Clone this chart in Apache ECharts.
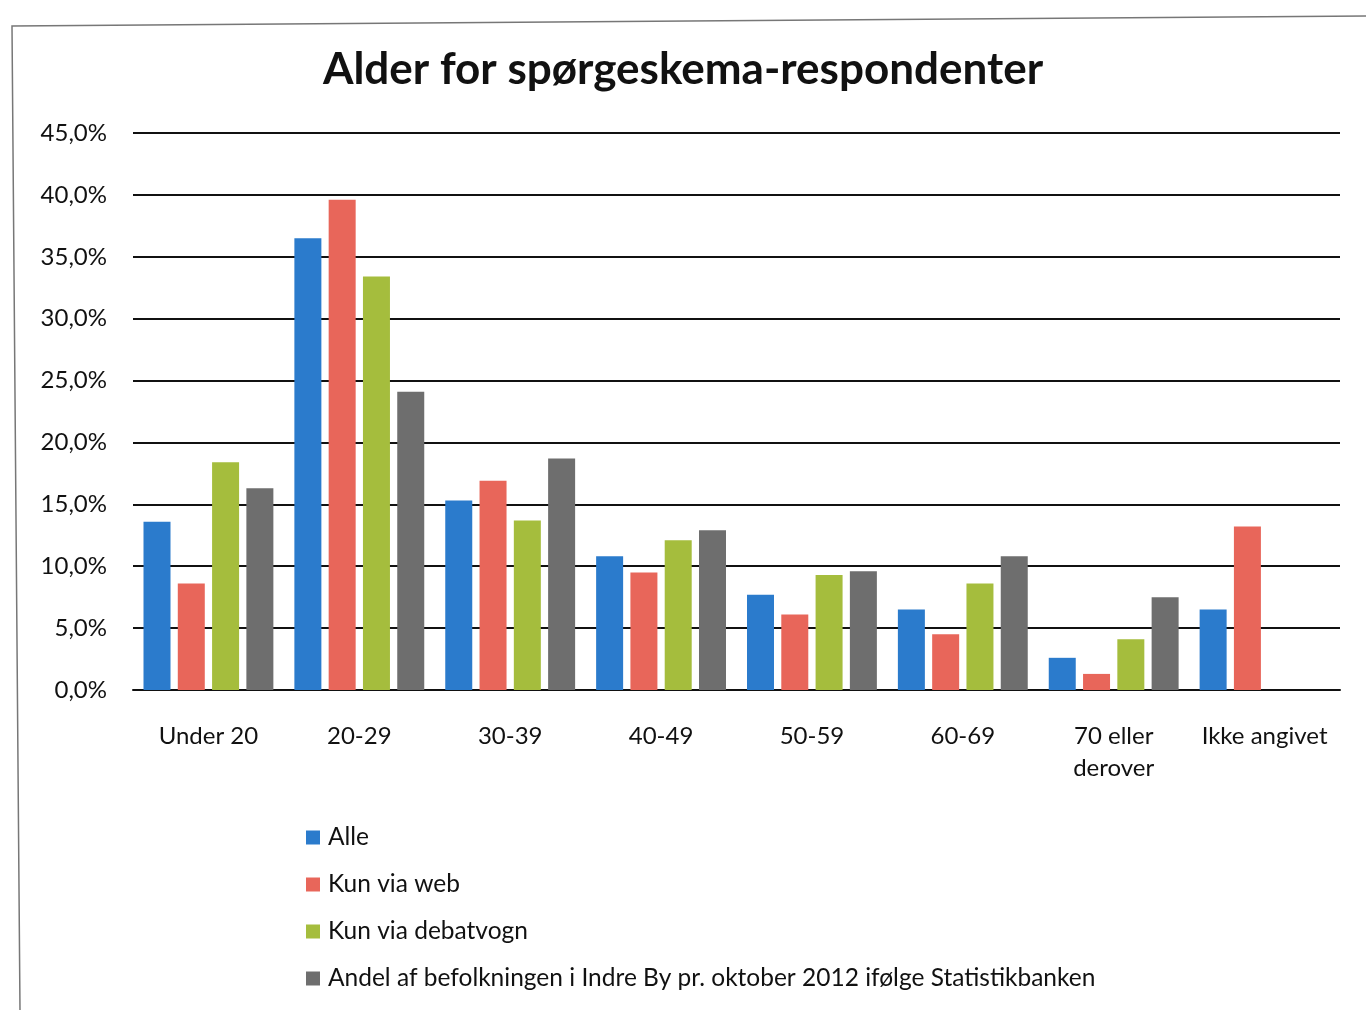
<!DOCTYPE html>
<html><head><meta charset="utf-8">
<script src="https://cdn.jsdelivr.net/npm/echarts@6/dist/echarts.min.js"></script>
<style>html,body{margin:0;padding:0;background:#fff}#c{width:1366px;height:1010px}</style>
</head><body><div id="c"></div>
<script>
const categories = ['Under 20','20-29','30-39','40-49','50-59','60-69','70 eller\nderover','Ikke angivet'];
const alle = [13.6, 36.5, 15.3, 10.8, 7.7, 6.5, 2.6, 6.5];
const kunWeb = [8.6, 39.6, 16.9, 9.5, 6.1, 4.5, 1.3, 13.2];
const kunDebatvogn = [18.4, 33.4, 13.7, 12.1, 9.3, 8.6, 4.1, null];
const andelBefolkning = [16.3, 24.1, 18.7, 12.9, 9.6, 10.8, 7.5, null];
const seriesNames = ['Alle','Kun via web','Kun via debatvogn','Andel af befolkningen i Indre By pr. oktober 2012 ifølge Statistikbanken'];
const colors = ['#2b7bcc','#e8665a','#a5bd3d','#6e6e6e'];
const FONT = 'Lato';

const chart = echarts.init(document.getElementById('c'));
const mk = (name, data, i) => ({
  name, type:'bar', data, barWidth:27, barGap:'27%',
  itemStyle:{color:colors[i]}
});
chart.setOption({
  animation:false,
  textStyle:{fontFamily:FONT},
  title:{text:'Alder for spørgeskema-respondenter', left:'center', top:43,
    textStyle:{fontFamily:FONT, fontSize:44, fontWeight:'bold', color:'#111'}},
  grid:{left:133, right:26, top:133, bottom:320},
  legend:{orient:'vertical', left:301, top:820, itemGap:22, itemWidth:14, itemHeight:14,
    icon:'rect', textStyle:{fontFamily:FONT, fontSize:24.5, color:'#111', padding:[0,0,0,3]}},
  xAxis:{type:'category', data:categories,
    axisLine:{lineStyle:{color:'#111', width:2}}, axisTick:{show:false},
    axisLabel:{fontFamily:FONT, fontSize:24, color:'#111', margin:30, lineHeight:32, interval:0}},
  yAxis:{type:'value', min:0, max:45, interval:5,
    axisLine:{show:false}, axisTick:{show:false},
    splitLine:{lineStyle:{color:'#111', width:2}},
    axisLabel:{fontFamily:FONT, fontSize:24, color:'#111', margin:26,
      formatter:v=>v.toFixed(1).replace('.',',')+'%'}},
  series:[mk(seriesNames[0],alle,0), mk(seriesNames[1],kunWeb,1), mk(seriesNames[2],kunDebatvogn,2), mk(seriesNames[3],andelBefolkning,3)],
  graphic:[{type:'polyline', shape:{points:[[1366,16],[12,26],[20,1010]]}, style:{stroke:'#777', lineWidth:1.5, fill:null}}]
});
</script></body></html>
